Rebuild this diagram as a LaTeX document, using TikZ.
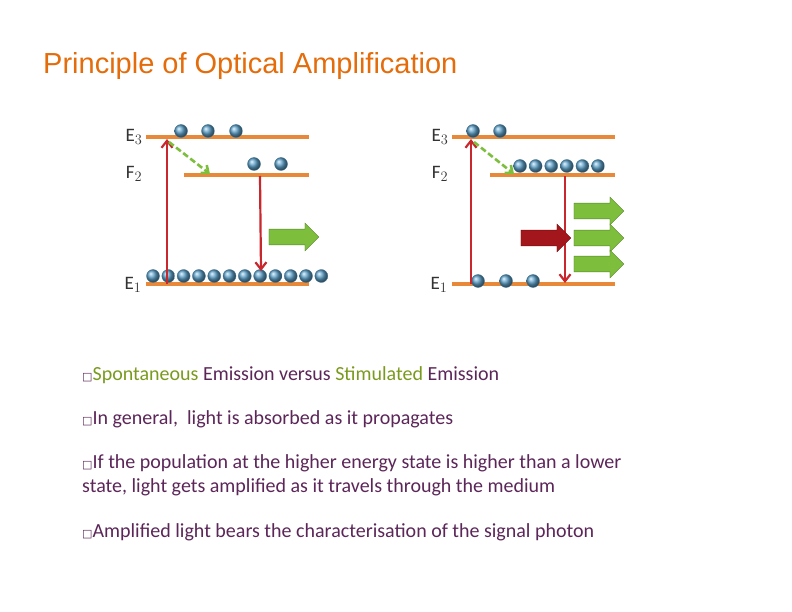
\documentclass[tikz,border=0pt]{standalone}
\usepackage{fontspec}
\setmainfont{Carlito}
\newfontfamily\titlefont{Liberation Sans}
\newfontfamily\symfont{DejaVu Sans}
\usetikzlibrary{arrows.meta,shapes.arrows}
\definecolor{lvl}{HTML}{E8893A}
\definecolor{atom}{HTML}{5FA3CC}
\definecolor{redarr}{HTML}{C8282D}
\definecolor{grn}{HTML}{7DBE3C}
\definecolor{darkred}{HTML}{A3161B}
\definecolor{txt}{HTML}{5C2659}
\definecolor{olive}{HTML}{7A9A1E}
\definecolor{ttl}{HTML}{E46C0A}
\tikzset{
 level/.style={draw=lvl,line width=3.4pt},
 atomdot/.style={circle,ball color=atom,minimum size=13pt,inner sep=0pt,draw=atom!70!black,line width=0.3pt},
 trans/.style={draw=redarr,line width=2.2pt,-{Straight Barb[length=7pt,width=11pt]}},
 decay/.style={draw=grn,line width=2.6pt,dash pattern=on 6pt off 3pt,-{Straight Barb[length=6pt,width=10pt]}},
 photon/.style={single arrow,fill=grn,draw=grn!70!black,minimum height=50pt,minimum width=28pt,single arrow head extend=4pt,inner sep=5pt,line width=0.3pt},
 elabel/.style={font=\fontsize{19}{19}\selectfont,text=black!80,inner sep=0pt},
 bullet/.style={font=\fontsize{20}{24}\selectfont,text=txt,anchor=west,inner sep=0pt,align=left},
}
\newcommand{\bx}{{\symfont\fontsize{11}{11}\selectfont □}}
\begin{document}
\begin{tikzpicture}[x=1pt,y=-1pt]
\useasboundingbox (0,0) rectangle (792,612);
\fill[white] (0,0) rectangle (792,612);
\node[anchor=west,font=\titlefont\fontsize{29}{32}\selectfont,text=ttl,inner sep=0pt] (title) at (43,66) {Principle of Optical Amplification};
\foreach \dx/\p in {0/L,306/R}{
 \begin{scope}[xshift=\dx]
 \coordinate (\p3a) at (146,137); \coordinate (\p3b) at (309,137);
 \coordinate (\p2a) at (184,175); \coordinate (\p2b) at (309,175);
 \coordinate (\p1a) at (146,284); \coordinate (\p1b) at (309,284);
 \draw[level] (\p3a)--(\p3b);
 \draw[level] (\p2a)--(\p2b);
 \draw[level] (\p1a)--(\p1b);
 \node[elabel] (\p E3) at (134,137) {E$_3$};
 \node[elabel] (\p E2) at (134,174) {F$_2$};
 \node[elabel] (\p E1) at (133,285) {E$_1$};
 \end{scope}}
\foreach \x [count=\i] in {181,208,236}{\node[atomdot] (la3\i) at (\x,131) {};}
\foreach \x [count=\i] in {254,281}{\node[atomdot] (la2\i) at (\x,164) {};}
\foreach \i in {0,...,11}{\node[atomdot] (la1\i) at ({153+15.3*\i},276) {};}
\coordinate (lu0) at (167,284); \coordinate (lu1) at (167,139);
\draw[trans] (lu0)--(lu1);
\coordinate (ld0) at (260,176); \coordinate (ld1) at (261,271);
\draw[trans] (ld0)--(ld1);
\coordinate (lg0) at (169,142); \coordinate (lg1) at (210,174);
\draw[decay] (lg0)--(lg1);
\node[photon] (lph) at (290,237) {};
\foreach \x [count=\i] in {473,500}{\node[atomdot] (ra3\i) at (\x,131) {};}
\foreach \i in {0,...,5}{\node[atomdot] (ra2\i) at ({520+15.6*\i},166) {};}
\foreach \x [count=\i] in {478,506,533}{\node[atomdot] (ra1\i) at (\x,281) {};}
\coordinate (ru0) at (471,284); \coordinate (ru1) at (471,139);
\draw[trans] (ru0)--(ru1);
\coordinate (rd0) at (565,176); \coordinate (rd1) at (565,283);
\draw[trans] (rd0)--(rd1);
\coordinate (rg0) at (474,142); \coordinate (rg1) at (514,174);
\draw[decay] (rg0)--(rg1);
\node[photon] (rp1) at (595,211) {};
\node[photon] (rp2) at (595,238) {};
\node[photon] (rp3) at (595,264) {};
\node[photon,fill=darkred,draw=darkred!70!black] (rsig) at (542,238) {};
\node[bullet] (b1) at (82,375) {\bx\textcolor{olive}{Spontaneous} Emission versus \textcolor{olive}{Stimulated} Emission};
\node[bullet] (b2) at (82,419) {\bx In general,\ \ light is absorbed as it propagates};
\node[bullet,anchor=north west] (b3) at (82,454) {\bx If the population at the higher energy state is higher than a lower\\state, light gets amplified as it travels through the medium};
\node[bullet] (b4) at (82,532) {\bx Amplified light bears the characterisation of the signal photon};
\end{tikzpicture}
\end{document}
